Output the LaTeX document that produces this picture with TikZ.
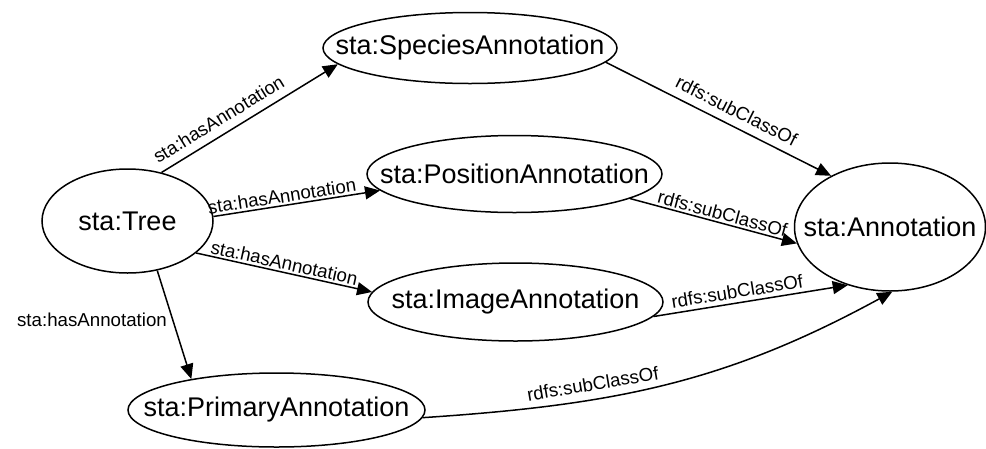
\documentclass[tikz,border=0pt]{standalone}
\usepackage{fontspec}
\setmainfont{Liberation Sans}
\usetikzlibrary{shapes.geometric,arrows.meta}
\begin{document}
\begin{tikzpicture}[x=1pt,y=-1pt,
  cls/.style={ellipse, draw, line width=1.5pt, inner sep=0pt},
  ctext/.style={font=\fontsize{27}{32}\selectfont, inner sep=0pt},
  rel/.style={draw, line width=1.5pt, -{Triangle[length=15pt,width=13pt]}},
  lbl/.style={font=\fontsize{18.7}{22}\selectfont, inner sep=2pt}]
\useasboundingbox (0,0) rectangle (986,448);
\node[cls, minimum width=171pt, minimum height=104pt, label={[ctext]center:sta:Tree}] (tree) at (127.5,221) {};
\node[cls, minimum width=294pt, minimum height=71pt, label={[ctext]center:sta:SpeciesAnnotation}] (species) at (470,48) {};
\node[cls, minimum width=295pt, minimum height=77pt, label={[ctext]center:sta:PositionAnnotation}] (position) at (514.5,174) {};
\node[cls, minimum width=295pt, minimum height=78pt, label={[ctext]center:sta:ImageAnnotation}] (image) at (515.5,302) {};
\node[cls, minimum width=297pt, minimum height=74pt, label={[ctext]center:sta:PrimaryAnnotation}] (primary) at (276.5,410) {};
\node[cls, minimum width=191pt, minimum height=128pt, label={[ctext]center:sta:Annotation}] (annotation) at (890,227) {};
\draw[rel] (tree.55) -- node[lbl, sloped, above=6pt, pos=0.37] {sta:hasAnnotation} (species.187);
\draw[rel] (tree.3) -- node[lbl, sloped, above, pos=0.42] {sta:hasAnnotation} (position.187);
\draw[rel] (tree.-25) -- node[lbl, sloped, above, pos=0.49] {sta:hasAnnotation} (image.176);
\draw[rel] (tree.-59) -- node[lbl, left=3pt, pos=0.45] {sta:hasAnnotation} (primary.160);
\draw[rel] (species.-6) -- node[lbl, sloped, above=6pt, pos=0.55] {rdfs:subClassOf} (annotation.139);
\draw[rel] (position.-12) -- node[lbl, sloped, above, pos=0.54] {rdfs:subClassOf} (annotation.190);
\draw[rel] (image.-6) -- node[lbl, sloped, above=2pt, pos=0.44] {rdfs:subClassOf} (annotation.234);
\coordinate (c1) at (614,405);
\coordinate (c2) at (725,383);
\draw[rel] (primary.-3) .. controls (c1) and (c2) .. node[lbl, sloped, above=6pt, pos=0.34] {rdfs:subClassOf} (annotation.272);
\end{tikzpicture}
\end{document}
